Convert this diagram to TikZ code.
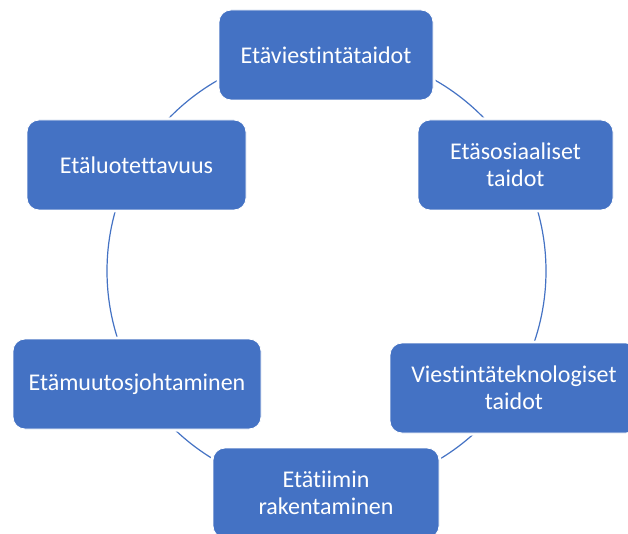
\documentclass[tikz,border=0pt]{standalone}
\usepackage{fontspec}
\setmainfont[RawFeature={-liga;-clig}]{Carlito}
\definecolor{boxblue}{HTML}{4472C4}
\tikzset{
  box/.style={rectangle, rounded corners=12pt, fill=boxblue, draw=white, line width=0.8pt,
    preaction={draw=white, line width=5pt},
    minimum height=90pt, text=white, align=center,
    font=\fontsize{24}{26.5}\selectfont, inner sep=0pt},
  ringstyle/.style={circle, draw=boxblue, line width=1.2pt, inner sep=0pt}
}
\begin{document}
\begin{tikzpicture}[x=1pt,y=1pt]
\useasboundingbox (0,0) rectangle (628,533);
\fill[white] (0,0) rectangle (628,533);
\node[ringstyle, minimum size=439pt] (ring) at (326.5,262) {};
\node[box, minimum width=214pt] (b1) at (326,478) {Etäviestintätaidot};
\node[box, minimum width=195pt] (b2) at (515.5,368) {Etäsosiaaliset\\taidot};
\node[box, minimum width=248pt] (b3) at (514,145) {Viestintäteknologiset\\taidot};
\node[box, minimum width=226pt] (b4) at (326,40) {Etätiimin\\rakentaminen};
\node[box, minimum width=248pt] (b5) at (137,149) {Etämuutosjohtaminen};
\node[box, minimum width=219pt] (b6) at (136.5,368) {Etäluotettavuus};
\end{tikzpicture}
\end{document}
